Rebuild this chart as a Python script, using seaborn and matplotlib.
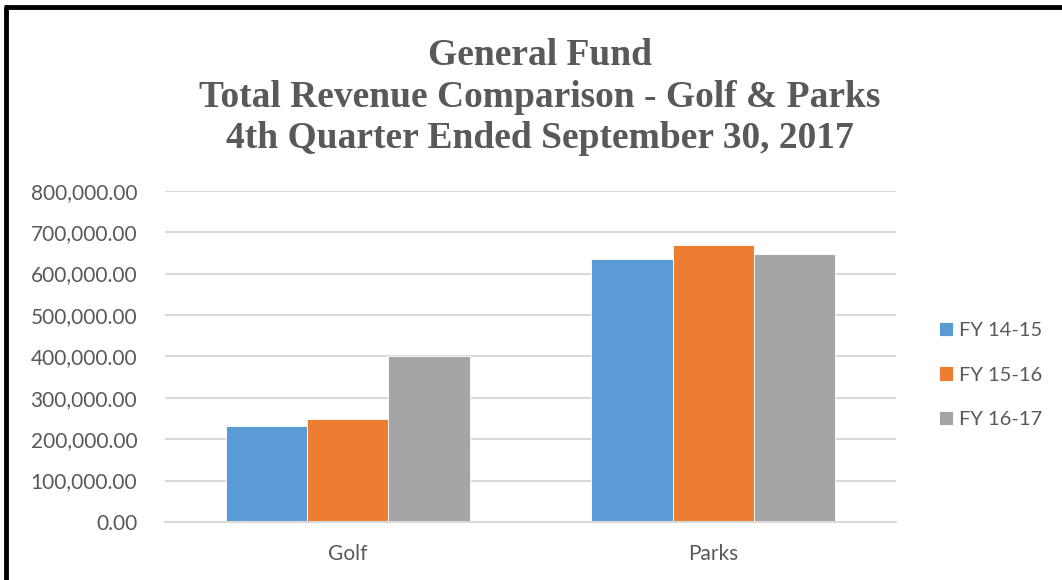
import matplotlib
matplotlib.use("Agg")
import matplotlib.pyplot as plt
import seaborn as sns
import pandas as pd
from matplotlib.lines import Line2D
from matplotlib.ticker import FuncFormatter, MultipleLocator

categories = ["Golf", "Parks"]
series = ["FY 14-15", "FY 15-16", "FY 16-17"]
fy1415 = [231000, 635000]
fy1516 = [249000, 670000]
fy1617 = [400000, 648000]
colors = ["#5B9BD5", "#ED7D31", "#A5A5A5"]

rows = []
for s, vals in zip(series, [fy1415, fy1516, fy1617]):
    for c, v in zip(categories, vals):
        rows.append({"Category": c, "Series": s, "Value": v})
df = pd.DataFrame(rows)

sns.set_theme(style="white")
plt.rcParams["font.family"] = ["Lato", "DejaVu Sans"]

fig = plt.figure(figsize=(10.62, 5.8), dpi=100)
ax = fig.add_axes([165/1062, 1-522/580, (896-165)/1062, (522-190.7)/580])

sns.barplot(data=df, x="Category", y="Value", hue="Series", palette=colors,
            width=2/3, gap=0, ax=ax, saturation=1, edgecolor="white", linewidth=0.6)

ax.set_ylim(0, 800000)
ax.set_xlim(-0.5, 1.5)
ax.yaxis.set_major_locator(MultipleLocator(100000))
ax.yaxis.set_major_formatter(FuncFormatter(lambda v, p: f"{v:,.2f}"))
ax.grid(axis="y", color="#D9D9D9", linewidth=1.5)
ax.set_axisbelow(True)
for sp in ["left", "right", "top"]:
    ax.spines[sp].set_visible(False)
ax.spines["bottom"].set_color("#D9D9D9")
ax.spines["bottom"].set_linewidth(1.5)
ax.tick_params(axis="both", length=0, labelsize=15, labelcolor="#595959")
ax.tick_params(axis="y", pad=20)
ax.tick_params(axis="x", pad=16)
ax.set_xlabel("")
ax.set_ylabel("")

handles, labels = ax.get_legend_handles_labels()
ax.legend(handles, labels, loc="center left", bbox_to_anchor=(921/1062, 1-375/580),
          bbox_transform=fig.transFigure, frameon=False, fontsize=14.5,
          labelcolor="#595959", handlelength=0.7, handleheight=0.7,
          handletextpad=0.3, labelspacing=1.35)

fig.text(540/1062, 1-97/580, "General Fund\nTotal Revenue Comparison - Golf & Parks\n4th Quarter Ended September 30, 2017",
         ha="center", va="center", fontsize=27, fontweight="bold", color="#595959",
         family=["Liberation Serif", "DejaVu Serif"], linespacing=1.25)

# partial frame (top and left)
fig.add_artist(Line2D([6/1062, 6/1062], [0, 1-7/580], transform=fig.transFigure,
                      color="black", linewidth=3.5, solid_capstyle="butt"))
fig.add_artist(Line2D([4.3/1062, 1], [1-7/580, 1-7/580], transform=fig.transFigure,
                      color="black", linewidth=3.5, solid_capstyle="butt"))

fig.savefig("out.png", dpi=100)
